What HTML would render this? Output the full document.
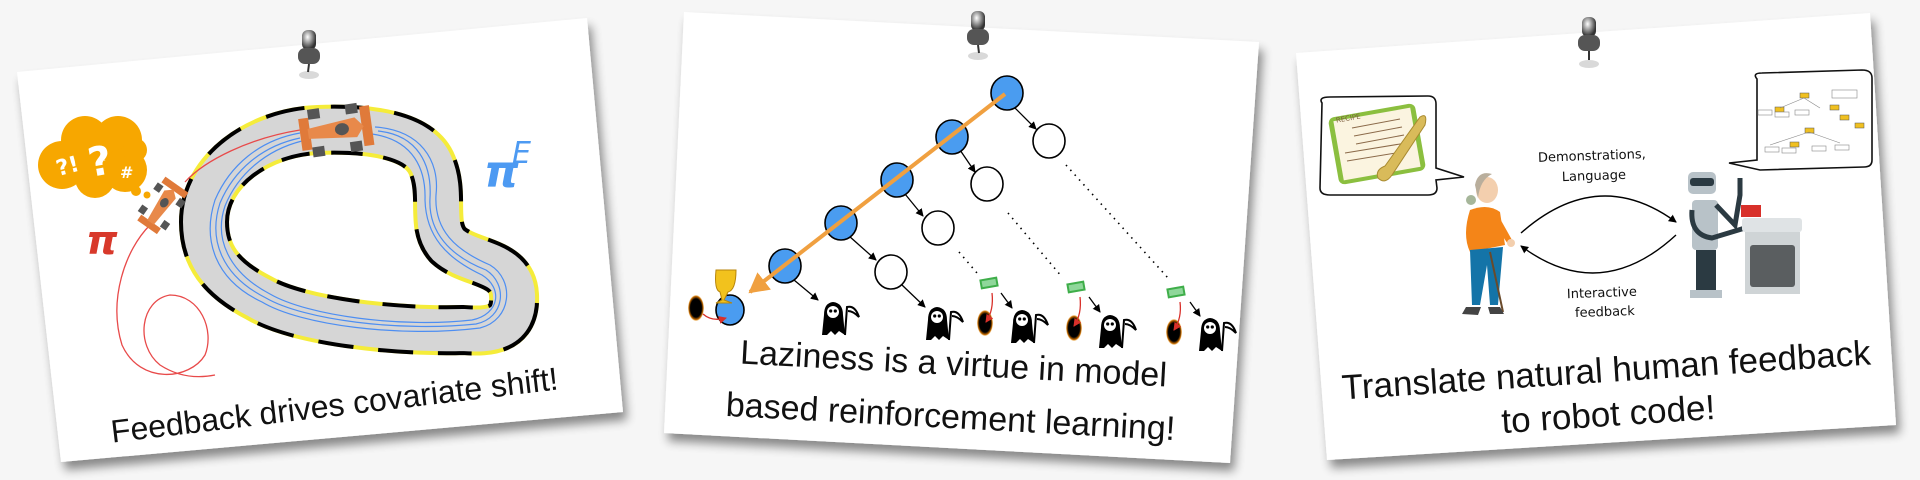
<!DOCTYPE html>
<html><head><meta charset="utf-8"><style>
html,body{margin:0;padding:0;background:#f6f6f6;width:1920px;height:480px;overflow:hidden}
svg{display:block}
text{font-family:"DejaVu Sans","Liberation Sans",sans-serif}
.cap{font-family:"Liberation Sans",sans-serif}
</style></head><body>
<svg width="1920" height="480" viewBox="0 0 1920 480" xmlns="http://www.w3.org/2000/svg">
<defs>
<filter id="sh" x="-10%" y="-10%" width="120%" height="130%">
<feGaussianBlur in="SourceAlpha" stdDeviation="5"/><feOffset dx="4" dy="8"/>
<feComponentTransfer><feFuncA type="linear" slope="0.45"/></feComponentTransfer>
<feMerge><feMergeNode/><feMergeNode in="SourceGraphic"/></feMerge></filter>
<radialGradient id="pin" cx="40%" cy="35%" r="60%"><stop offset="0" stop-color="#fff"/><stop offset="0.5" stop-color="#999"/><stop offset="1" stop-color="#333"/></radialGradient>
<radialGradient id="portal" cx="50%" cy="50%" r="50%"><stop offset="0.7" stop-color="#000"/><stop offset="0.9" stop-color="#c56a00"/><stop offset="1" stop-color="#f5b44a" stop-opacity="0.3"/></radialGradient>
<marker id="ah" markerWidth="8" markerHeight="8" refX="7" refY="4" orient="auto" markerUnits="userSpaceOnUse"><path d="M0,0 L8,4 L0,8 Z" fill="#000"/></marker>
<marker id="ahr" markerWidth="8" markerHeight="8" refX="7" refY="4" orient="auto" markerUnits="userSpaceOnUse"><path d="M0,0 L8,4 L0,8 Z" fill="#d8302a"/></marker>
<marker id="aho" markerWidth="22" markerHeight="22" refX="18" refY="11" orient="auto" markerUnits="userSpaceOnUse"><path d="M0,0 L20,11 L0,22 Z" fill="#f0a040"/></marker>
<g id="reaper"><path d="M-11,18 L-9,-2 Q-9,-14 0,-15 Q10,-14 10,-2 L12,18 L6,14 L2,18 L-2,14 L-6,18 Z" fill="#000"/><circle cx="0" cy="-5" r="6" fill="#fff"/><circle cx="-2.3" cy="-6" r="1.6" fill="#000"/><circle cx="2.3" cy="-6" r="1.6" fill="#000"/><path d="M12,18 L14,-10 Q22,-12 26,0 Q20,-6 15,-6" fill="none" stroke="#000" stroke-width="2"/></g>
<g id="money"><rect x="-9" y="-5" width="18" height="10" fill="#3fae4a" transform="rotate(-10)"/><rect x="-7" y="-3" width="14" height="6" fill="#8fd79a" transform="rotate(-10)"/></g>
</defs>

<polygon points="17,72 587,18 623,412 61,462" fill="#fff" filter="url(#sh)"/>
<polygon points="684,12 1259,42 1230,463 664,433" fill="#fff" filter="url(#sh)"/>
<polygon points="1296,53 1870,13 1896,425 1327,460" fill="#fff" filter="url(#sh)"/>

<g><ellipse cx="309" cy="75" rx="10" ry="4" fill="#000" opacity="0.15"/><rect x="302" y="30" width="14" height="20" rx="6" fill="url(#pin)"/><rect x="298" y="48" width="22" height="16" rx="7" fill="#555"/><line x1="309" y1="64" x2="308" y2="72" stroke="#333" stroke-width="2"/></g>
<g><ellipse cx="978" cy="56" rx="10" ry="4" fill="#000" opacity="0.15"/><rect x="971" y="11" width="14" height="20" rx="6" fill="url(#pin)"/><rect x="967" y="29" width="22" height="16" rx="7" fill="#555"/><line x1="978" y1="45" x2="979" y2="53" stroke="#333" stroke-width="2"/></g>
<g><ellipse cx="1589" cy="64" rx="10" ry="4" fill="#000" opacity="0.15"/><rect x="1582" y="17" width="14" height="20" rx="6" fill="url(#pin)"/><rect x="1578" y="35" width="22" height="16" rx="7" fill="#555"/><line x1="1589" y1="51" x2="1589" y2="60" stroke="#333" stroke-width="2"/></g>

<path d="M204,222 C204,170 260,132 318,130 C370,128 420,135 432,165 C445,195 430,225 448,245 C470,265 512,260 514,295 C516,330 490,332 463,330 C400,332 300,322 259,298 C220,278 204,255 204,222 Z" fill="none" stroke="#f5ec3a" stroke-width="50"/>
<path d="M204,222 C204,170 260,132 318,130 C370,128 420,135 432,165 C445,195 430,225 448,245 C470,265 512,260 514,295 C516,330 490,332 463,330 C400,332 300,322 259,298 C220,278 204,255 204,222 Z" fill="none" stroke="#000" stroke-width="50" stroke-dasharray="34 24"/>
<path d="M204,222 C204,170 260,132 318,130 C370,128 420,135 432,165 C445,195 430,225 448,245 C470,265 512,260 514,295 C516,330 490,332 463,330 C400,332 300,322 259,298 C220,278 204,255 204,222 Z" fill="none" stroke="#d6d6d6" stroke-width="42"/>
<g fill="none" stroke="#4d8ef2" stroke-width="1.2">
<path d="M375,127 C420,130 440,160 436,195 C434,230 455,250 490,265 C515,280 512,320 480,328 C400,338 300,325 262,302 C215,280 202,240 215,200 C230,165 260,140 300,133"/>
<path d="M378,131 C418,135 432,165 430,198 C428,232 450,256 486,270 C508,284 505,318 476,324 C400,332 304,320 266,298 C222,276 208,240 220,203 C234,170 262,146 300,138"/>
<path d="M372,134 C414,140 426,170 425,200 C426,236 446,258 482,275 C503,288 500,314 472,320 C402,328 308,316 270,294 C228,272 214,238 225,206 C238,174 266,150 302,141"/>
</g>
<path d="M300,130 C250,138 205,160 185,182 M150,225 C125,250 108,300 122,345 C140,385 190,380 205,355 C215,330 200,295 170,295 C140,300 135,345 160,365 C180,378 200,378 215,375" fill="none" stroke="#e84a4a" stroke-width="1.3"/>
<g transform="translate(336,130) rotate(-8)">
<rect x="-36" y="-16" width="10" height="32" fill="#e07a3a"/><rect x="26" y="-20" width="10" height="40" fill="#e07a3a"/>
<rect x="-26" y="-24" width="12" height="10" fill="#555"/><rect x="-26" y="14" width="12" height="10" fill="#555"/><rect x="12" y="-24" width="12" height="10" fill="#555"/><rect x="12" y="14" width="12" height="10" fill="#555"/>
<path d="M-28,-5 L20,-10 L28,0 L20,10 L-28,5 Z" fill="#e8894a"/><ellipse cx="6" cy="0" rx="7" ry="6" fill="#555"/></g>
<g transform="translate(162,206) rotate(-55)">
<rect x="-26" y="-12" width="7" height="24" fill="#e07a3a"/><rect x="19" y="-14" width="7" height="28" fill="#e07a3a"/>
<rect x="-18" y="-17" width="8" height="7" fill="#555"/><rect x="-18" y="10" width="8" height="7" fill="#555"/><rect x="9" y="-17" width="8" height="7" fill="#555"/><rect x="9" y="10" width="8" height="7" fill="#555"/>
<path d="M-20,-4 L14,-7 L20,0 L14,7 L-20,4 Z" fill="#e8894a"/><ellipse cx="4" cy="0" rx="5" ry="4" fill="#555"/></g>
<g fill="#f7a700"><circle cx="62" cy="165" r="24"/><circle cx="85" cy="140" r="24"/><circle cx="118" cy="140" r="24"/><circle cx="125" cy="170" r="22"/><circle cx="95" cy="178" r="20"/><circle cx="135" cy="150" r="12"/><circle cx="136" cy="191" r="5"/><circle cx="147" cy="195" r="3.5"/></g>
<text x="55" y="170" font-size="22" font-weight="bold" fill="#fff" transform="rotate(-15 80 160)">?!</text>
<text x="88" y="175" font-size="40" font-weight="bold" fill="#fff" transform="rotate(-10 100 160)">?</text>
<text x="120" y="178" font-size="16" font-weight="bold" fill="#fff">#</text>
<text x="86" y="254" font-size="40" font-style="italic" font-weight="bold" fill="#d8392b" font-family="Liberation Serif,serif">π</text>
<text x="484" y="187" font-size="44" font-style="italic" font-weight="bold" fill="#4d9af2" font-family="Liberation Serif,serif">π</text>
<text x="512" y="163" font-size="30" font-style="italic" fill="#4d9af2" font-family="Liberation Serif,serif">E</text>
<text class="cap" x="335" y="416" font-size="32" text-anchor="middle" transform="rotate(-6.8 335 410)" fill="#111">Feedback drives covariate shift!</text>

<g stroke="#000" stroke-width="1.3" fill="none">
<line x1="1013" y1="106" x2="1036" y2="129" marker-end="url(#ah)"/>
<line x1="960" y1="150" x2="975" y2="172" marker-end="url(#ah)"/>
<line x1="905" y1="194" x2="923" y2="216" marker-end="url(#ah)"/>
<line x1="849" y1="236" x2="876" y2="260" marker-end="url(#ah)"/>
<line x1="794" y1="280" x2="818" y2="300" marker-end="url(#ah)"/>
<line x1="902" y1="285" x2="925" y2="307" marker-end="url(#ah)"/>
<line x1="1001" y1="293" x2="1012" y2="308" marker-end="url(#ah)"/>
<line x1="1089" y1="297" x2="1100" y2="312" marker-end="url(#ah)"/>
<line x1="1190" y1="302" x2="1200" y2="316" marker-end="url(#ah)"/>
</g>
<g stroke="#000" stroke-width="1.6" stroke-dasharray="1.5 5" fill="none">
<line x1="1066" y1="165" x2="1168" y2="278"/><line x1="1008" y1="213" x2="1062" y2="277"/><line x1="959" y1="252" x2="977" y2="273"/></g>
<g stroke="#000" stroke-width="1.6">
<g fill="#4a9cf0"><ellipse cx="1007" cy="93" rx="16" ry="17"/><ellipse cx="952" cy="137" rx="16" ry="17"/><ellipse cx="897" cy="180" rx="16" ry="17"/><ellipse cx="841" cy="223" rx="16" ry="17"/><ellipse cx="785" cy="266" rx="16" ry="17"/><ellipse cx="730" cy="310" rx="14" ry="15"/></g>
<g fill="#fff"><ellipse cx="1049" cy="141" rx="16" ry="17"/><ellipse cx="987" cy="184" rx="16" ry="17"/><ellipse cx="938" cy="228" rx="16" ry="17"/><ellipse cx="891" cy="272" rx="16" ry="17"/></g></g>
<line x1="1005" y1="94" x2="750" y2="292" stroke="#f0a040" stroke-width="4" marker-end="url(#aho)"/>
<path d="M716,270 L736,270 Q736,290 728,292 L724,300 L732,303 L716,303 L722,300 L720,292 Q714,290 716,270 Z" fill="#f2c21d" stroke="#b8860b" stroke-width="1"/>
<g fill="url(#portal)"><ellipse cx="696" cy="308" rx="8" ry="13"/><ellipse cx="985" cy="323" rx="8" ry="13"/><ellipse cx="1074" cy="328" rx="8" ry="13"/><ellipse cx="1174" cy="332" rx="8" ry="13"/></g>
<g stroke="#d8302a" stroke-width="1.3" fill="none">
<path d="M703,314 Q712,322 726,318" marker-end="url(#ahr)"/><path d="M992,293 Q994,310 986,322" marker-end="url(#ahr)"/><path d="M1080,297 Q1082,314 1074,326" marker-end="url(#ahr)"/><path d="M1180,302 Q1182,318 1174,330" marker-end="url(#ahr)"/></g>
<use href="#reaper" x="833" y="317"/><use href="#reaper" x="937" y="322"/><use href="#reaper" x="1022" y="325"/><use href="#reaper" x="1110" y="330"/><use href="#reaper" x="1210" y="333"/>
<use href="#money" x="989" y="283"/><use href="#money" x="1076" y="287"/><use href="#money" x="1176" y="292"/>
<text class="cap" x="953" y="375" font-size="34" text-anchor="middle" transform="rotate(3.1 953 375)" fill="#111">Laziness is a virtue in model</text>
<text class="cap" x="950" y="428" font-size="34" text-anchor="middle" transform="rotate(3.1 950 428)" fill="#111">based reinforcement learning!</text>

<path d="M1322,103 Q1318,97 1330,97 L1428,96 Q1436,96 1436,104 L1436,168 L1464,177 L1436,180 L1437,188 Q1437,195 1428,195 L1330,195 Q1320,195 1320,188 Z" fill="#fff" stroke="#111" stroke-width="1.6"/>
<rect x="1333" y="110" width="88" height="68" rx="6" fill="#8bbf3f" transform="rotate(-10 1377 144)"/>
<rect x="1338" y="114" width="78" height="60" fill="#fbf4e0" transform="rotate(-10 1377 144)"/>
<g stroke="#8b6a4a" stroke-width="1"><line x1="1352" y1="128" x2="1400" y2="119"/><line x1="1354" y1="136" x2="1402" y2="127"/><line x1="1356" y1="144" x2="1404" y2="135"/><line x1="1345" y1="153" x2="1406" y2="143"/><line x1="1347" y1="161" x2="1408" y2="151"/></g>
<text x="1336" y="122" font-size="7" fill="#7a5a3a" transform="rotate(-10 1340 120)">RECIPE</text>
<path d="M1420,117 Q1428,112 1425,125 L1392,175 Q1385,185 1378,178 Q1375,170 1385,166 Z" fill="#d9bb5a" stroke="#a88a30" stroke-width="1"/>
<path d="M1757,79 Q1752,73 1762,73 L1862,70 Q1872,70 1872,78 L1872,160 Q1872,167 1864,167 L1760,170 L1729,163 L1757,160 Z" fill="#fff" stroke="#111" stroke-width="1.6"/>
<g fill="#f0c020" stroke="#555" stroke-width="0.5"><rect x="1800" y="93" width="9" height="5"/><rect x="1830" y="105" width="9" height="5"/><rect x="1840" y="115" width="9" height="5"/><rect x="1805" y="128" width="9" height="5"/><rect x="1790" y="142" width="9" height="5"/><rect x="1775" y="107" width="9" height="5"/><rect x="1855" y="123" width="9" height="5"/></g>
<g stroke="#888" stroke-width="0.6" fill="#fff"><rect x="1758" y="110" width="14" height="5"/><rect x="1775" y="112" width="14" height="5"/><rect x="1795" y="110" width="14" height="5"/><rect x="1765" y="147" width="14" height="5"/><rect x="1782" y="148" width="14" height="5"/><rect x="1812" y="146" width="14" height="5"/><rect x="1835" y="145" width="14" height="5"/><rect x="1832" y="90" width="25" height="8"/><path d="M1804,98 L1780,108 M1804,98 L1820,108 M1809,132 L1770,145 M1809,132 L1840,143"/></g>
<ellipse cx="1487" cy="190" rx="11" ry="13" fill="#f3cfae"/><path d="M1475,185 Q1478,170 1492,174 Q1480,180 1478,198 Z" fill="#b9ae9c"/><circle cx="1471" cy="200" r="5" fill="#a6b69a"/>
<path d="M1470,210 Q1488,203 1500,212 L1505,245 L1470,252 Q1462,235 1470,210 Z" fill="#f48518"/>
<path d="M1498,215 L1512,240 L1508,244 L1494,224 Z" fill="#f48518"/><circle cx="1511" cy="243" r="4" fill="#f3cfae"/>
<path d="M1470,250 L1503,247 L1498,305 L1490,305 L1487,265 L1480,305 L1472,305 Z" fill="#1474a8"/>
<line x1="1490" y1="252" x2="1503" y2="312" stroke="#6a4a2a" stroke-width="2"/>
<path d="M1466,307 L1481,307 L1478,315 L1462,314 Z M1488,307 L1500,307 L1504,314 L1490,314 Z" fill="#444"/>
<rect x="1688" y="172" width="28" height="22" rx="5" fill="#b8c2c8"/><rect x="1690" y="178" width="24" height="8" rx="3" fill="#2b3a42"/>
<rect x="1692" y="200" width="26" height="50" rx="4" fill="#b8c2c8"/><rect x="1696" y="250" width="20" height="42" fill="#2b3a42"/><rect x="1690" y="290" width="32" height="8" fill="#b8c2c8"/>
<path d="M1692,210 Q1690,235 1712,238 L1745,228" fill="none" stroke="#2b3a42" stroke-width="5"/><path d="M1716,205 L1735,225 L1740,195 L1740,178" fill="none" stroke="#2b3a42" stroke-width="5"/>
<rect x="1741" y="205" width="20" height="12" fill="#d8302a"/>
<rect x="1742" y="218" width="60" height="14" rx="3" fill="#dfe3e5"/><rect x="1745" y="232" width="55" height="62" fill="#cfd4d6"/><rect x="1750" y="245" width="45" height="42" rx="3" fill="#5a5e60"/>
<g stroke="#000" stroke-width="1.4" fill="none">
<path d="M1521,233 Q1598,165 1676,222" marker-end="url(#ah)"/>
<path d="M1676,235 Q1600,305 1521,246" marker-end="url(#ah)"/></g>
<g font-size="13" fill="#111" text-anchor="middle">
<text x="1592" y="160" transform="rotate(-2 1592 160)">Demonstrations,</text><text x="1594" y="180" transform="rotate(-2 1594 180)">Language</text>
<text x="1602" y="297" transform="rotate(-2 1602 297)">Interactive</text><text x="1605" y="316" transform="rotate(-2 1605 316)">feedback</text></g>
<text class="cap" x="1607" y="382" font-size="35" text-anchor="middle" transform="rotate(-3.8 1607 382)" fill="#111">Translate natural human feedback</text>
<text class="cap" x="1609" y="426" font-size="35" text-anchor="middle" transform="rotate(-3.8 1609 426)" fill="#111">to robot code!</text>
</svg>
</body></html>
